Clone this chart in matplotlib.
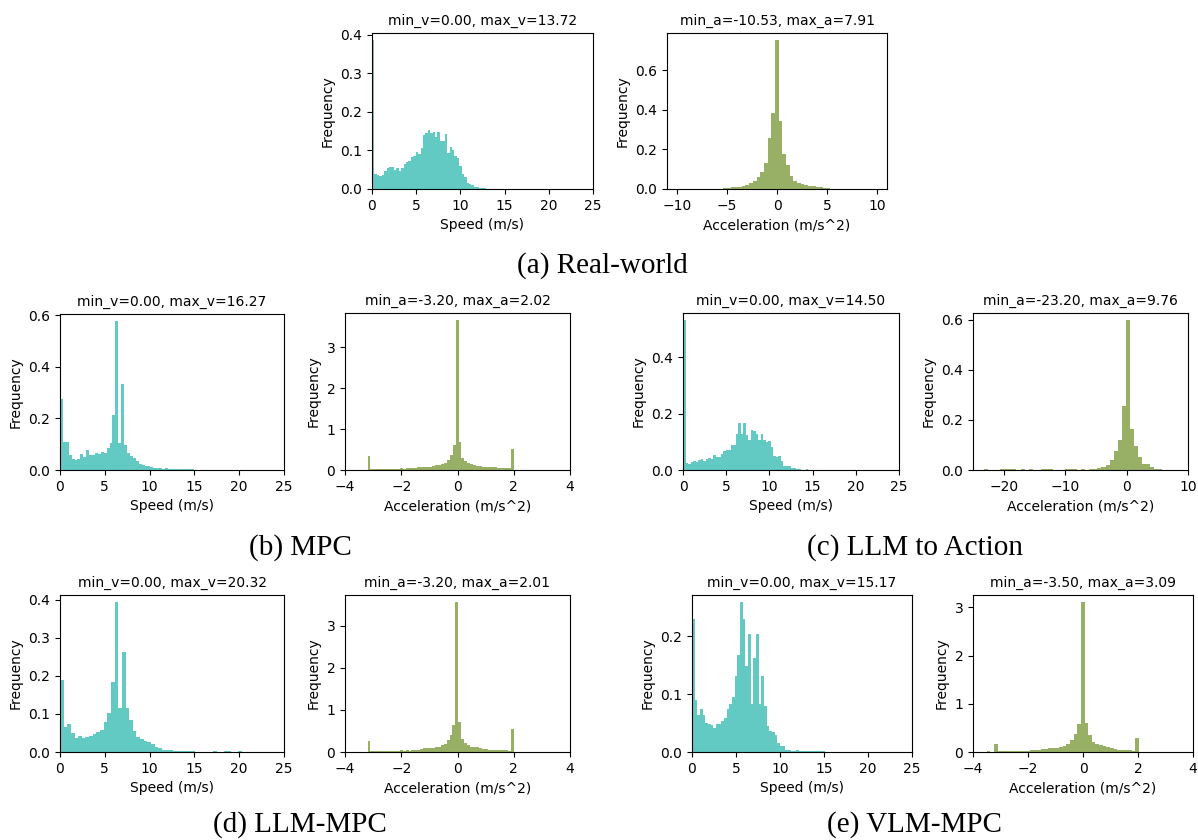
import numpy as np
import matplotlib
matplotlib.use('Agg')
import matplotlib.pyplot as plt

W, H = 1198, 840

# histogram densities, 50 bins each
rw_speed = [0.385, 0.040, 0.037, 0.034, 0.036, 0.046, 0.054, 0.057, 0.057, 0.050,
            0.055, 0.047, 0.055, 0.065, 0.070, 0.072, 0.083, 0.085, 0.095, 0.090,
            0.105, 0.140, 0.145, 0.152, 0.145, 0.148, 0.135, 0.148, 0.125, 0.125,
            0.143, 0.092, 0.110, 0.100, 0.085, 0.080, 0.060, 0.038, 0.030, 0.015,
            0.012, 0.010, 0.006, 0.004, 0.003, 0.002, 0.002, 0.001, 0.001, 0.001]
rw_acc = [0.0, 0.0, 0.0005, 0.0, 0.0005, 0.0005, 0.0005, 0.001, 0.001, 0.001,
          0.001, 0.0015, 0.002, 0.002, 0.003, 0.006, 0.010, 0.010, 0.012, 0.017,
          0.022, 0.030, 0.042, 0.059, 0.085, 0.131, 0.256, 0.385, 0.751, 0.345,
          0.176, 0.119, 0.064, 0.039, 0.032, 0.025, 0.020, 0.017, 0.013, 0.010,
          0.008, 0.005, 0.003, 0.002, 0.001, 0.001, 0.0005, 0.0005, 0.0, 0.0005]
mpc_speed = [0.277, 0.110, 0.110, 0.059, 0.044, 0.037, 0.044, 0.062, 0.050, 0.078,
             0.059, 0.059, 0.065, 0.063, 0.068, 0.065, 0.085, 0.104, 0.215, 0.576,
             0.104, 0.335, 0.097, 0.065, 0.053, 0.046, 0.033, 0.024, 0.021, 0.017,
             0.017, 0.010, 0.009, 0.006, 0.006, 0.004, 0.006, 0.004, 0.004, 0.003,
             0.003, 0.002, 0.002, 0.003, 0.002, 0.002, 0.001, 0.001, 0.0005, 0.0005]
mpc_acc = [0.33, 0.030, 0.030, 0.030, 0.030, 0.030, 0.032, 0.032, 0.033, 0.033,
           0.035, 0.045, 0.035, 0.045, 0.05, 0.05, 0.055, 0.065, 0.065, 0.075,
           0.08, 0.08, 0.09, 0.11, 0.12, 0.14, 0.17, 0.24, 0.36, 0.61,
           3.65, 0.69, 0.30, 0.21, 0.17, 0.14, 0.11, 0.10, 0.09, 0.08,
           0.075, 0.075, 0.065, 0.065, 0.06, 0.055, 0.05, 0.045, 0.04, 0.52]
l2a_speed = [0.530, 0.025, 0.021, 0.028, 0.033, 0.027, 0.034, 0.040, 0.031, 0.039,
             0.043, 0.040, 0.052, 0.046, 0.046, 0.058, 0.069, 0.070, 0.072, 0.090,
             0.090, 0.129, 0.167, 0.129, 0.167, 0.125, 0.108, 0.141, 0.137, 0.128,
             0.108, 0.128, 0.108, 0.098, 0.102, 0.082, 0.049, 0.045, 0.049, 0.031,
             0.015, 0.015, 0.015, 0.007, 0.007, 0.004, 0.004, 0.001, 0.001, 0.004]
l2a_acc = [0.003, 0.0, 0.0, 0.0, 0.003, 0.003, 0.003, 0.003, 0.0, 0.002,
           0.0, 0.002, 0.0, 0.0, 0.003, 0.003, 0.003, 0.0, 0.0, 0.0,
           0.003, 0.003, 0.003, 0.0, 0.002, 0.0, 0.002, 0.004, 0.007, 0.011,
           0.021, 0.039, 0.075, 0.118, 0.257, 0.597, 0.164, 0.097, 0.052, 0.025,
           0.025, 0.012, 0.005, 0.002, 0.001, 0.0, 0.0, 0.0, 0.0, 0.0]
llmmpc_speed = [0.190, 0.067, 0.074, 0.050, 0.038, 0.042, 0.037, 0.040, 0.043, 0.047,
                0.053, 0.057, 0.078, 0.103, 0.185, 0.393, 0.115, 0.263, 0.115, 0.083,
                0.055, 0.040, 0.035, 0.030, 0.025, 0.020, 0.013, 0.010, 0.006, 0.004,
                0.006, 0.003, 0.002, 0.002, 0.002, 0.002, 0.002, 0.001, 0.001, 0.0,
                0.001, 0.0, 0.002, 0.001, 0.0, 0.002, 0.002, 0.0, 0.0, 0.002]
llmmpc_acc = [0.27, 0.025, 0.025, 0.025, 0.025, 0.025, 0.025, 0.025, 0.025, 0.025,
              0.03, 0.05, 0.035, 0.04, 0.035, 0.04, 0.045, 0.055, 0.08, 0.085,
              0.095, 0.10, 0.10, 0.12, 0.13, 0.16, 0.20, 0.28, 0.40, 0.63,
              3.55, 0.71, 0.30, 0.21, 0.17, 0.13, 0.11, 0.11, 0.09, 0.08,
              0.07, 0.055, 0.055, 0.05, 0.05, 0.05, 0.05, 0.04, 0.03, 0.55]
vlm_speed = [0.230, 0.089, 0.063, 0.074, 0.063, 0.050, 0.049, 0.047, 0.041, 0.048,
             0.048, 0.053, 0.059, 0.074, 0.082, 0.095, 0.131, 0.167, 0.258, 0.229,
             0.149, 0.203, 0.082, 0.163, 0.203, 0.082, 0.131, 0.080, 0.044, 0.037,
             0.034, 0.030, 0.016, 0.011, 0.010, 0.004, 0.003, 0.002, 0.002, 0.003,
             0.001, 0.001, 0.002, 0.002, 0.002, 0.001, 0.002, 0.001, 0.001, 0.002]
vlm_acc = [0.02, 0.005, 0.17, 0.02, 0.02, 0.02, 0.02, 0.02, 0.02, 0.02,
           0.03, 0.03, 0.035, 0.04, 0.05, 0.055, 0.06, 0.075, 0.085, 0.09,
           0.10, 0.12, 0.17, 0.24, 0.37, 0.58, 3.10, 0.60, 0.35, 0.21,
           0.17, 0.14, 0.12, 0.10, 0.085, 0.06, 0.05, 0.04, 0.04, 0.04,
           0.03, 0.29, 0.0, 0.0, 0.0, 0.0, 0.0, 0.0, 0.0, 0.002]

# min / max of each series (from the titles)
speed_max = [13.72, 16.27, 14.50, 20.32, 15.17]
acc_min = [-10.53, -3.20, -23.20, -3.20, -3.50]
acc_max = [7.91, 2.02, 9.76, 2.01, 3.09]
captions = ['(a) Real-world', '(b) MPC', '(c) LLM to Action', '(d) LLM-MPC', '(e) VLM-MPC']

speeds = [rw_speed, mpc_speed, l2a_speed, llmmpc_speed, vlm_speed]
accs = [rw_acc, mpc_acc, l2a_acc, llmmpc_acc, vlm_acc]
acc_xlim = [(-11, 11), (-4, 4), (-25, 10), (-4, 4), (-4, 4)]

# pixel boxes (left, top, right, bottom) for speed and acceleration axes
speed_box = [(372, 33, 593, 189), (60, 314, 284, 470), (683, 313, 899, 470),
             (60, 595, 284, 752), (692, 595, 912, 752)]
acc_box = [(667, 33, 887, 189), (345, 313, 570, 470), (973, 313, 1188, 470),
           (345, 595, 570, 752), (973, 595, 1193, 752)]
caption_pos = [(602, 273), (300, 555), (915, 555), (300, 832), (915, 832)]

speed_color = '#62C9C3'
acc_color = '#97B065'

plt.rcParams['font.size'] = 10
fig = plt.figure(figsize=(W / 100, H / 100), dpi=100)


def put_axes(box):
    l, t, r, b = box
    return fig.add_axes([l / W, 1 - b / H, (r - l) / W, (b - t) / H])


for k in range(5):
    ax = put_axes(speed_box[k])
    edges = np.linspace(0.0, speed_max[k], len(speeds[k]) + 1)
    ax.stairs(speeds[k], edges, fill=True, color=speed_color)
    ax.set_xlim(0, 25)
    ax.set_ylim(bottom=0)
    ax.set_xlabel('Speed (m/s)')
    ax.set_ylabel('Frequency')
    ax.set_title('min_v=%.2f, max_v=%.2f' % (0.0, speed_max[k]), fontsize=10)

    ax = put_axes(acc_box[k])
    edges = np.linspace(acc_min[k], acc_max[k], len(accs[k]) + 1)
    ax.stairs(accs[k], edges, fill=True, color=acc_color)
    ax.set_xlim(*acc_xlim[k])
    ax.set_ylim(bottom=0)
    ax.set_xlabel('Acceleration (m/s^2)')
    ax.set_ylabel('Frequency')
    ax.set_title('min_a=%.2f, max_a=%.2f' % (acc_min[k], acc_max[k]), fontsize=10)

    cx, cy = caption_pos[k]
    fig.text(cx / W, 1 - cy / H, captions[k], ha='center', va='baseline',
             family='Liberation Serif', fontsize=21)

fig.savefig('out.png', dpi=100)
